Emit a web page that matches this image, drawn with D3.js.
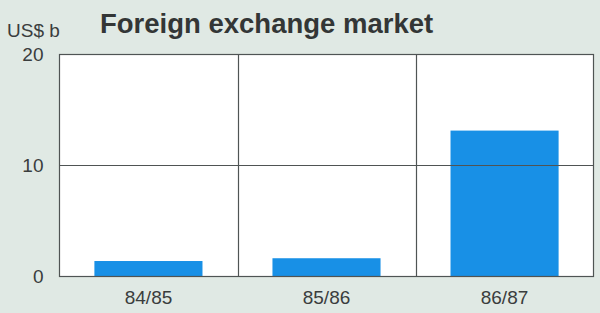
<!DOCTYPE html>
<html><head><meta charset="utf-8">
<script src="https://cdn.jsdelivr.net/npm/d3@7"></script>
<style>
html,body{margin:0;padding:0;background:#e0e9e4;}
svg{display:block;}
text{font-family:"Liberation Sans",Arial,sans-serif;}
</style></head>
<body><svg id="c" width="600" height="313"></svg>
<script>
const categories = ["84/85","85/86","86/87"];
const values = [1.35, 1.6, 13.1];
const yTicks = [0, 10, 20];
const title = "Foreign exchange market";
const unit = "US$ b";

const svg = d3.select("#c");
const L = 59.5, R = 593.5, T = 54, B = 276;
const x = d3.scaleBand().domain(categories).range([L, R]).paddingInner(0.393).paddingOuter(0.196);
const xb = d3.scaleBand().domain(categories).range([L, R]);
const y = d3.scaleLinear().domain([0, 20]).range([B, T]);

svg.append("rect").attr("x", L).attr("y", T).attr("width", R - L).attr("height", B - T).attr("fill", "#fff");

svg.selectAll(".bar").data(values).enter().append("rect")
  .attr("x", (d, i) => x(categories[i]))
  .attr("width", x.bandwidth())
  .attr("y", d => y(d))
  .attr("height", d => y(0) - y(d))
  .attr("fill", "#1890e6");

const g = svg.append("g").attr("stroke", "#4f5454").attr("stroke-width", 1.2).attr("fill", "none");
yTicks.forEach(t => {
  g.append("line").attr("x1", L).attr("x2", R).attr("y1", Math.round(y(t)) + 0.5).attr("y2", Math.round(y(t)) + 0.5);
});
categories.slice(1).forEach(c => {
  const xx = Math.round(xb(c)) + 0.5;
  g.append("line").attr("x1", xx).attr("x2", xx).attr("y1", T).attr("y2", B);
});
g.append("rect").attr("x", L).attr("y", T + 0.5).attr("width", R - L).attr("height", B - T);

const yAxis = d3.axisLeft(y).tickValues(yTicks).tickSize(0).tickPadding(16);
svg.append("g").attr("transform", `translate(${L},0)`).call(yAxis)
  .call(s => s.select(".domain").remove())
  .selectAll("text").attr("font-size", 19).attr("fill", "#3a3d3d")
  .attr("font-family", "'Liberation Sans', Arial, sans-serif").attr("dy", "0.36em");

const xAxis = d3.axisBottom(xb).tickSize(0).tickPadding(15);
svg.append("g").attr("transform", `translate(0,${B})`).call(xAxis)
  .call(s => s.select(".domain").remove())
  .selectAll("text").attr("font-size", 19).attr("fill", "#3a3d3d")
  .attr("font-family", "'Liberation Sans', Arial, sans-serif");

svg.append("text").attr("x", 7).attr("y", 37).attr("font-size", 19).attr("fill", "#3a3d3d").text(unit);
svg.append("text").attr("x", 100).attr("y", 33).attr("font-size", 27.5).attr("font-weight", "bold").attr("fill", "#333636").text(title);
</script></body></html>
